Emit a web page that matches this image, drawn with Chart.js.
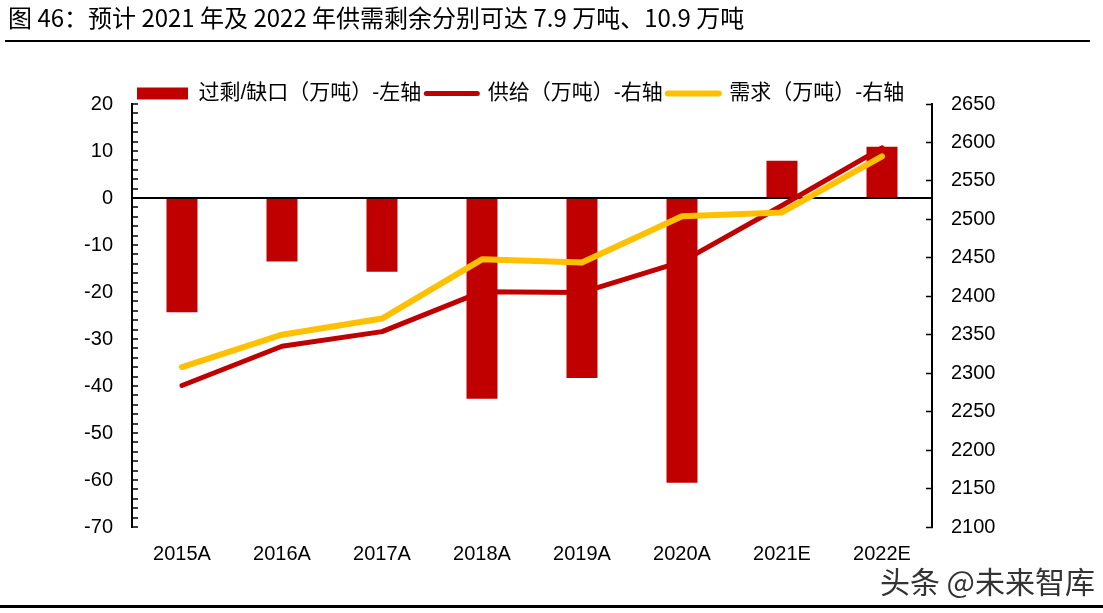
<!DOCTYPE html>
<html>
<head>
<meta charset="utf-8">
<script src="https://cdn.jsdelivr.net/npm/chart.js@4.4.1/dist/chart.umd.min.js"></script>
<style>
  html, body { margin: 0; padding: 0; background: #fff; }
  #wrap { position: relative; width: 1103px; height: 613px; overflow: hidden; }
  #chart { position: absolute; left: 0; top: 0; }
  .title { position: absolute; left: 8px; top: -1px; font: 24px 'Noto Sans CJK SC', sans-serif; color: #000; white-space: nowrap; }
  .rule  { position: absolute; background: #000; }
  .mark  { position: absolute; right: 8px; top: 558px; font: 30px 'Noto Sans CJK SC', sans-serif; color: #333; white-space: nowrap; }
</style>
</head>
<body>
<div id="wrap">
  <canvas id="chart" width="1103" height="613"></canvas>
  <div class="title">图 46：预计 2021 年及 2022 年供需剩余分别可达 7.9 万吨、10.9 万吨</div>
  <div class="rule" style="left:5px;top:40px;width:1085px;height:2px"></div>
  <div class="rule" style="left:0;top:605px;width:1103px;height:3px"></div>
  <div class="mark">头条 @未来智库</div>
</div>
<script>
// ── Data ──────────────────────────────────────────────────────────────────────
const YEARS  = ['2015A', '2016A', '2017A', '2018A', '2019A', '2020A', '2021E', '2022E'];
const GAP    = [-24.3, -13.5, -15.7, -42.7, -38.3, -60.6, 7.9, 10.9];   // 过剩/缺口, left axis
const SUPPLY = [2284, 2335, 2354, 2406, 2405, 2445, 2518, 2593];        // 供给, right axis
const DEMAND = [2308, 2350, 2371, 2448, 2444, 2504, 2509, 2582];        // 需求, right axis
const LABELS = ['过剩/缺口（万吨）-左轴', '供给（万吨）-右轴', '需求（万吨）-右轴'];

const RED    = '#C00000';
const YELLOW = '#FFC000';

Chart.defaults.font.family = "'Liberation Sans', 'Noto Sans CJK SC', sans-serif";
Chart.defaults.font.size   = 20;
Chart.defaults.color       = '#000';

// legend sits right above the plot, so keep its box short
const legendHeight = {
  id: 'legendHeight',
  beforeInit(chart) {
    const fit = chart.legend.fit;
    chart.legend.fit = function () { fit.call(this); this.height = 26; };
  }
};

new Chart(document.getElementById('chart'), {
  type: 'bar',
  data: {
    labels: YEARS,
    datasets: [
      {
        type: 'bar', label: LABELS[0], data: GAP, yAxisID: 'y',
        backgroundColor: RED, barPercentage: 0.31, categoryPercentage: 1, order: 2
      },
      {
        type: 'line', label: LABELS[1], data: SUPPLY, yAxisID: 'y1',
        borderColor: RED, backgroundColor: RED, borderWidth: 5, pointRadius: 0,
        borderCapStyle: 'round', borderJoinStyle: 'round', order: 1
      },
      {
        type: 'line', label: LABELS[2], data: DEMAND, yAxisID: 'y1',
        borderColor: YELLOW, backgroundColor: YELLOW, borderWidth: 6, pointRadius: 0,
        borderCapStyle: 'round', borderJoinStyle: 'round', order: 0
      }
    ]
  },
  options: {
    responsive: false,
    animation: false,
    layout: { padding: { left: 60, right: 40, top: 78, bottom: 26 } },
    plugins: {
      tooltip: { enabled: false },
      legend: {
        position: 'top', align: 'start', fullSize: false,
        labels: {
          usePointStyle: true, pointStyleWidth: 51, padding: 5,
          font: { size: 21 }, color: '#000',
          generateLabels: chart => chart.data.datasets.map((ds, i) => ({
            text: ds.label,
            fillStyle: ds.backgroundColor,
            strokeStyle: ds.type === 'bar' ? ds.backgroundColor : ds.borderColor,
            lineWidth: ds.type === 'bar' ? 12 : ds.borderWidth,
            lineCap: ds.type === 'bar' ? 'butt' : 'round',
            pointStyle: 'line',
            fontColor: '#000',
            hidden: false,
            datasetIndex: i
          }))
        }
      }
    },
    scales: {
      x: {
        grid: { display: false }, border: { display: false },
        ticks: { padding: 7 },
        afterFit: s => { s.height = 60; }
      },
      y: {
        position: 'left', min: -70, max: 20,
        ticks: { stepSize: 2, autoSkip: false, padding: 25, callback: v => (v % 10 === 0 ? v : '') },
        grid: {
          color: c => (c.tick && c.tick.value === 0 ? '#000' : 'rgba(0,0,0,0)'),
          lineWidth: 2, tickLength: -6, tickColor: '#000', tickWidth: 1.5
        },
        border: { display: true, color: '#000', width: 2 },
        afterFit: s => { s.width = 72; }
      },
      y1: {
        position: 'right', min: 2100, max: 2650,
        ticks: { stepSize: 50, padding: 25, callback: v => String(v) },
        grid: { drawOnChartArea: false, tickLength: -6, tickColor: '#000', tickWidth: 1.5 },
        border: { display: true, color: '#000', width: 2 },
        afterFit: s => { s.width = 131; }
      }
    }
  },
  plugins: [legendHeight]
});
</script>
</body>
</html>
